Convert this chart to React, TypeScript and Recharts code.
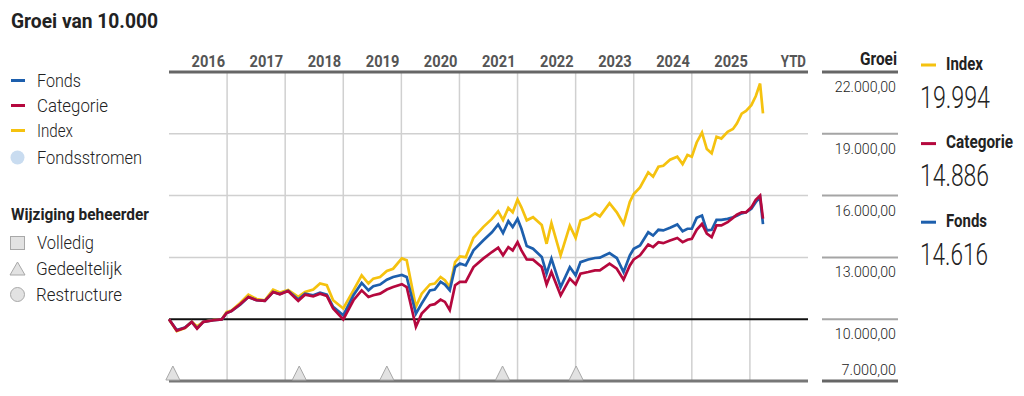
import React from 'react';
import { ComposedChart, Line, XAxis, YAxis, ReferenceLine, ReferenceDot } from 'recharts';

const FONT = 'Roboto, "Liberation Sans", sans-serif';

// months since start of 2016
const months = [0, 1.6, 3.3, 4.7, 5.8, 7.1, 9.2, 10.9, 11.9, 12.9, 14.7, 16.4, 18.1, 19.8, 21.5, 22.9, 24.6, 26.7, 28.1, 29.8, 31.2, 32.6, 33.9, 36.0, 38.1, 39.8, 41.2, 42.2, 43.6, 45.0, 46.3, 48.1, 49.1, 51.0, 52.2, 53.9, 54.9, 56.1, 57.0, 58.0, 59.1, 60.1, 61.3, 62.9, 64.9, 66.7, 68.0, 69.0, 70.1, 71.0, 72.0, 72.8, 73.9, 75.2, 77.0, 78.0, 79.0, 80.9, 82.8, 84.0, 85.0, 86.6, 88.0, 89.0, 91.0, 92.5, 93.9, 95.2, 96.0, 97.3, 99.0, 100.0, 101.1, 102.1, 103.5, 105.0, 106.1, 107.1, 108.0, 109.0, 110.1, 111.1, 112.1, 113.1, 114.1, 115.4, 116.5, 117.3, 118.3, 119.2, 120.3, 121.2, 122.1, 122.7];

const fonds = [10000, 9470, 9590, 9870, 9560, 9870, 9950, 9990, 10300, 10390, 10700, 11080, 10920, 10890, 11320, 11220, 11380, 10950, 11240, 11160, 11290, 11190, 10600, 10190, 11160, 11760, 11400, 11600, 11680, 11920, 12050, 12150, 12050, 10270, 10760, 11400, 11440, 11810, 11680, 11400, 12530, 12700, 12610, 13340, 13820, 14220, 14600, 14180, 14760, 14470, 14870, 14390, 13550, 13420, 13020, 12210, 12940, 11560, 12530, 12130, 12770, 12900, 12970, 12990, 13210, 12970, 12290, 13100, 13420, 13580, 14220, 14060, 14340, 14310, 14440, 14600, 14270, 14390, 14390, 14920, 15030, 14310, 14340, 14820, 14820, 14870, 14950, 15020, 15140, 15190, 15360, 15680, 15920, 14616];

const categorie = [10000, 9450, 9580, 9870, 9540, 9870, 9950, 9990, 10300, 10390, 10725, 11080, 10920, 10890, 11320, 11210, 11370, 10890, 11190, 11110, 11240, 11130, 10520, 9990, 10920, 11400, 11080, 11160, 11240, 11440, 11560, 11700, 11560, 9630, 10270, 10680, 10730, 10950, 10840, 10440, 11650, 11810, 11810, 12530, 12940, 13260, 13470, 13100, 13500, 13340, 13740, 13340, 12900, 12890, 12530, 11690, 12290, 11160, 11970, 11690, 12210, 12290, 12370, 12370, 12700, 12450, 11920, 12610, 12900, 13100, 13630, 13500, 13740, 13690, 13820, 13940, 13740, 13860, 13900, 14340, 14630, 14150, 13980, 14550, 14550, 14710, 14920, 15070, 15190, 15190, 15430, 15790, 16000, 14886];

const indexSeries = [10000, 9420, 9570, 9880, 9650, 9880, 9960, 10000, 10350, 10420, 10790, 11190, 10980, 10920, 11440, 11300, 11420, 11080, 11320, 11440, 11730, 11650, 10920, 10520, 11400, 12130, 11730, 11970, 12050, 12340, 12450, 12950, 12860, 10600, 11240, 11690, 11730, 12050, 11890, 11560, 12770, 13050, 13010, 13950, 14470, 14870, 15240, 14820, 15400, 15190, 15810, 15430, 14800, 14950, 14570, 13660, 14660, 13100, 14540, 13950, 14790, 14920, 15140, 14990, 15630, 15190, 14620, 15700, 16080, 16400, 17130, 16920, 17400, 17450, 17740, 17890, 17530, 17970, 17890, 18580, 19060, 18260, 18050, 18860, 18770, 19100, 19230, 19500, 19980, 20110, 20390, 20820, 21440, 19994];

const yearLabels = ['2016', '2017', '2018', '2019', '2020', '2021', '2022', '2023', '2024', '2025', 'YTD'];
const yTicks = [7000, 10000, 13000, 16000, 19000, 22000];
const managerChanges = [0.8, 26.9, 45.0, 68.9, 84.1];

const seriesNames = ['Index', 'Categorie', 'Fonds'];
const seriesColors = ['#f5c20f', '#b5083e', '#1d5fad'];
const finalValues = ['19.994', '14.886', '14.616'];

const data = months.map((t, i) => ({ t, fonds: fonds[i], categorie: categorie[i], index: indexSeries[i] }));
const yearEnds = yearLabels.map((_, i) => (i + 1) * 12);
const yearBounds = yearEnds.slice(0, -1);

const fmtNL = (v: number) => Math.round(v).toString().replace(/\B(?=(\d{3})+(?!\d))/g, '.') + ',00';

const T = (p: { x: number; y: number; w: number; size: number; weight?: number; anchor?: 'start' | 'end' | 'middle'; fill?: string; children: React.ReactNode }) => (
  <text
    x={p.x}
    y={p.y}
    fontFamily={FONT}
    fontSize={p.size}
    fontWeight={p.weight ?? 400}
    textAnchor={p.anchor ?? 'start'}
    fill={p.fill ?? '#2a2a2a'}
    textLength={p.w}
    lengthAdjust="spacingAndGlyphs"
  >
    {p.children}
  </text>
);

const YearTick = (props: any) => {
  const { x, payload } = props;
  const idx = Math.round(payload.value / 12) - 1;
  const label = yearLabels[idx] ?? '';
  return (
    <T x={x - 2} y={66.5} w={label.length * 8.4} size={16.5} weight={700} anchor="end" fill="#555">
      {label}
    </T>
  );
};

const GrowthTick = (props: any) => {
  const { y, payload } = props;
  const v = payload.value;
  const edge = v === 22000 || v === 7000;
  const ty = v === 7000 ? y - 6 : y + 20;
  const label = fmtNL(v);
  return (
    <g>
      <line x1={822} x2={898} y1={y} y2={y} stroke={edge ? '#666' : '#a5a5a5'} strokeWidth={edge ? 3 : 2} />
      <T x={896} y={ty} w={label.length * 6.8} size={15.5} weight={300} anchor="end" fill="#222">
        {label}
      </T>
    </g>
  );
};

const Triangle = (props: any) => {
  const { cx, cy } = props;
  return <polygon points={`${cx - 7},${cy - 1} ${cx + 7},${cy - 1} ${cx},${cy - 15}`} fill="#e2e2e2" stroke="#a8a8a8" strokeWidth={1} />;
};

export default function App() {
  return (
    <div style={{ position: 'absolute', left: 0, top: 0, width: 1024, height: 396, background: '#fff', overflow: 'hidden' }}>
      <div style={{ position: 'absolute', left: 0, top: 0 }}>
        <ComposedChart width={1024} height={396} data={data} margin={{ top: 42, right: 96, bottom: 15, left: 169 }} style={{ fontFamily: FONT }}>
          <XAxis
            dataKey="t"
            type="number"
            orientation="top"
            domain={[0, 132]}
            ticks={yearEnds}
            height={30}
            tickLine={false}
            axisLine={{ stroke: '#666', strokeWidth: 3 }}
            tick={<YearTick />}
            interval={0}
          />
          <YAxis
            type="number"
            orientation="right"
            domain={[7000, 22000]}
            ticks={yTicks}
            width={120}
            axisLine={false}
            tickLine={false}
            tick={<GrowthTick />}
            interval={0}
          />
          {yearBounds.map((b) => (
            <ReferenceLine key={'v' + b} x={b} stroke="#d0d0d0" strokeWidth={1.5} />
          ))}
          {[13000, 16000, 19000].map((v) => (
            <ReferenceLine key={'h' + v} y={v} stroke="#d0d0d0" strokeWidth={1.5} />
          ))}
          <ReferenceLine y={10000} stroke="#111" strokeWidth={2} />
          <ReferenceLine y={7000} stroke="#777" strokeWidth={3} />
          {managerChanges.map((m) => (
            <ReferenceDot key={'m' + m} x={m} y={7000} r={7} shape={<Triangle />} />
          ))}
          <Line type="linear" dataKey="index" stroke="#f5c20f" strokeWidth={2.7} dot={false} isAnimationActive={false} />
          <Line type="linear" dataKey="fonds" stroke="#1d5fad" strokeWidth={2.7} dot={false} isAnimationActive={false} />
          <Line type="linear" dataKey="categorie" stroke="#b5083e" strokeWidth={2.7} dot={false} isAnimationActive={false} />
        </ComposedChart>
      </div>

      <svg width={1024} height={396} style={{ position: 'absolute', left: 0, top: 0, pointerEvents: 'none' }}>
        {/* Title */}
        <T x={11} y={28} w={147} size={21} weight={700} fill="#222">Groei van 10.000</T>

        {/* Left legend: series */}
        <rect x={11} y={79} width={14} height={3} fill="#1d5fad" />
        <T x={37} y={87} w={44} size={19} weight={300} fill="#222">Fonds</T>
        <rect x={11} y={104} width={14} height={3} fill="#b5083e" />
        <T x={37} y={112} w={71} size={19} weight={300} fill="#222">Categorie</T>
        <rect x={11} y={129} width={14} height={3} fill="#f5c20f" />
        <T x={37} y={137} w={36} size={19} weight={300} fill="#222">Index</T>
        <circle cx={17.5} cy={157.5} r={7} fill="#c9dcf0" />
        <T x={37} y={164} w={105} size={19} weight={300} fill="#222">Fondsstromen</T>

        {/* Left legend: manager change */}
        <T x={11} y={220} w={138} size={16.5} weight={700} fill="#222">Wijziging beheerder</T>
        <rect x={10.5} y={236.5} width={14} height={13} fill="#e2e2e2" stroke="#a8a8a8" strokeWidth={1} />
        <T x={37} y={249} w={57} size={19} weight={300} fill="#222">Volledig</T>
        <polygon points="10,275 25,275 17.5,262" fill="#e2e2e2" stroke="#a8a8a8" strokeWidth={1} />
        <T x={36} y={275} w={86} size={19} weight={300} fill="#222">Gedeeltelijk</T>
        <circle cx={17.5} cy={294.5} r={7} fill="#e2e2e2" stroke="#a8a8a8" strokeWidth={1} />
        <T x={36} y={301} w={86} size={19} weight={300} fill="#222">Restructure</T>

        {/* Growth header */}
        <T x={897} y={65} w={37} size={18} weight={700} anchor="end" fill="#222">Groei</T>

        {/* Right legend */}
        {seriesNames.map((name, i) => {
          const base = 69.5 + i * 78.6;
          const nameW = [37, 67, 41][i];
          const valW = [70, 69, 68][i];
          return (
            <g key={name}>
              <rect x={921} y={base - 6} width={15} height={3} fill={seriesColors[i]} />
              <T x={946} y={base} w={nameW} size={17.5} weight={700} fill="#222">{name}</T>
              <T x={920} y={base + 38.3} w={valW} size={32} weight={300} fill="#222">{finalValues[i]}</T>
            </g>
          );
        })}
      </svg>
    </div>
  );
}
